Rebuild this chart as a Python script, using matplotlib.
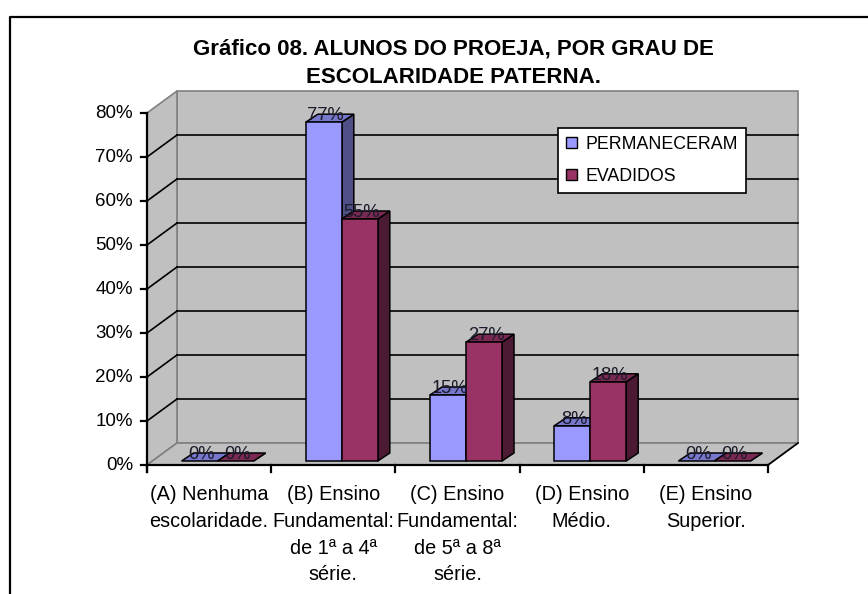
import matplotlib
matplotlib.use('Agg')
import matplotlib.pyplot as plt
from matplotlib.patches import Polygon, Patch
from matplotlib.lines import Line2D

categories = ["(A) Nenhuma\nescolaridade.",
              "(B) Ensino\nFundamental:\nde 1ª a 4ª\nsérie.",
              "(C) Ensino\nFundamental:\nde 5ª a 8ª\nsérie.",
              "(D) Ensino\nMédio.",
              "(E) Ensino\nSuperior."]
permaneceram = [0, 77, 15, 8, 0]
evadidos = [0, 55, 27, 18, 0]
series_names = ["PERMANECERAM", "EVADIDOS"]
y_ticks = [0, 10, 20, 30, 40, 50, 60, 70, 80]
y_tick_labels = ["0%", "10%", "20%", "30%", "40%", "50%", "60%", "70%", "80%"]
title = "Gráfico 08. ALUNOS DO PROEJA, POR GRAU DE\nESCOLARIDADE PATERNA."

plt.rcParams['font.family'] = ['Liberation Sans', 'DejaVu Sans']

W, H = 868, 594
fig = plt.figure(figsize=(W / 100, H / 100), dpi=100)
fig.patch.set_facecolor('white')

# axes: x in category units [0,5], y in percent [0,80]
x0p, x1p, y0p, y1p = 147, 768, 465, 113
ax = fig.add_axes([x0p / W, 1 - y0p / H, (x1p - x0p) / W, (y0p - y1p) / H])
ax.set_xlim(0, 5)
ax.set_ylim(0, 80)
ax.axis('off')

pxx = 5 / (x1p - x0p)      # category units per pixel
pxy = 80 / (y0p - y1p)     # percent per pixel
ox, oy = 30 * pxx, 22 * pxy   # box depth
ncat = len(categories)
ymax = y_ticks[-1]

wall = '#C0C0C0'
edge = '#808080'
# back wall
ax.add_patch(Polygon([(ox, oy), (ncat + ox, oy), (ncat + ox, ymax + oy), (ox, ymax + oy)],
                     closed=True, facecolor=wall, edgecolor=edge, lw=1.2, clip_on=False, zorder=1))
# left wall
ax.add_patch(Polygon([(0, 0), (ox, oy), (ox, ymax + oy), (0, ymax)],
                     closed=True, facecolor=wall, edgecolor=edge, lw=1.2, clip_on=False, zorder=1))
# floor
ax.add_patch(Polygon([(0, 0), (ncat, 0), (ncat + ox, oy), (ox, oy)],
                     closed=True, facecolor=wall, edgecolor=edge, lw=1.2, clip_on=False, zorder=1))
ax.plot([ncat, ncat + ox], [0, oy], color='black', lw=1.2, clip_on=False, zorder=2)

# gridlines
for t in y_ticks[1:-1]:
    ax.plot([ox, ncat + ox], [t + oy, t + oy], color='black', lw=1.2, clip_on=False, zorder=2)
    ax.plot([0, ox], [t, t + oy], color='black', lw=1.2, clip_on=False, zorder=2)

# axes lines
ax.plot([0, 0], [-7 * pxy, ymax], color='black', lw=1.6, clip_on=False, zorder=3)
ax.plot([0, ncat], [0, 0], color='black', lw=1.6, clip_on=False, zorder=3)
for t, lab in zip(y_ticks, y_tick_labels):
    ax.plot([-6 * pxx, 0], [t, t], color='black', lw=1.6, clip_on=False, zorder=3)
    ax.text(-14 * pxx, t, lab, ha='right', va='center', fontsize=13.5, color='black')
for i in range(ncat + 1):
    ax.plot([i, i], [0, -7 * pxy], color='black', lw=1.6, clip_on=False, zorder=3)
for i, lab in enumerate(categories):
    ax.text(i + 0.5, -20.5 * pxy, lab, ha='center', va='top', fontsize=14.3,
            linespacing=1.5, color='black')

# bars
bw = 36 * pxx
bx, by = 8.5 * pxx, 4 * pxy
ddx, ddy = 12 * pxx, 8 * pxy
colors = [('#9999FF', '#7777CC', '#4F4F85'), ('#993366', '#7A2952', '#4D1A33')]
series = [permaneceram, evadidos]
z = 4
for i in range(ncat):
    for j, vals in enumerate(series):
        v = vals[i]
        front, top, side = colors[j]
        xl = i + 0.5 - bw + j * bw + bx
        xr = xl + bw
        ax.add_patch(Polygon([(xr, by), (xr + ddx, by + ddy), (xr + ddx, by + v + ddy), (xr, by + v)],
                             closed=True, facecolor=side, edgecolor='black', lw=1.1, clip_on=False, zorder=z))
        ax.add_patch(Polygon([(xl, by + v), (xr, by + v), (xr + ddx, by + v + ddy), (xl + ddx, by + v + ddy)],
                             closed=True, facecolor=top, edgecolor='black', lw=1.1, clip_on=False, zorder=z))
        if v > 0:
            ax.add_patch(Polygon([(xl, by), (xr, by), (xr, by + v), (xl, by + v)],
                                 closed=True, facecolor=front, edgecolor='black', lw=1.1, clip_on=False, zorder=z))
        z += 1
        ax.text((xl + xr) / 2 + 2 * pxx, by + v + ddy * 0.8, f"{v}%", ha='center', va='center',
                fontsize=13.2, color='#1a1a2a', zorder=50, clip_on=False)

# legend
handles = [Patch(facecolor=colors[k][0], edgecolor='black', lw=1.0) for k in range(2)]
leg = fig.legend(handles, series_names, loc='upper left',
                 bbox_to_anchor=(558 / W, 1 - 128 / H), frameon=True, fancybox=False,
                 fontsize=12.8, handlelength=0.6, handleheight=0.6, handletextpad=0.5,
                 labelspacing=0.85, borderpad=0.45, borderaxespad=0, framealpha=1,
                 facecolor='white')
leg.get_frame().set_edgecolor('black')
leg.get_frame().set_linewidth(1.2)

# title
fig.text(453 / W, 1 - 63 / H, title, ha='center', va='center', fontsize=16,
         fontweight='bold', linespacing=1.45)

# outer frame
fig.add_artist(Line2D([10 / W, 10 / W, 1.0], [0.0, 1 - 17 / H, 1 - 17 / H],
                      transform=fig.transFigure, color='black', lw=1.6))

fig.savefig('out.png', dpi=100)
